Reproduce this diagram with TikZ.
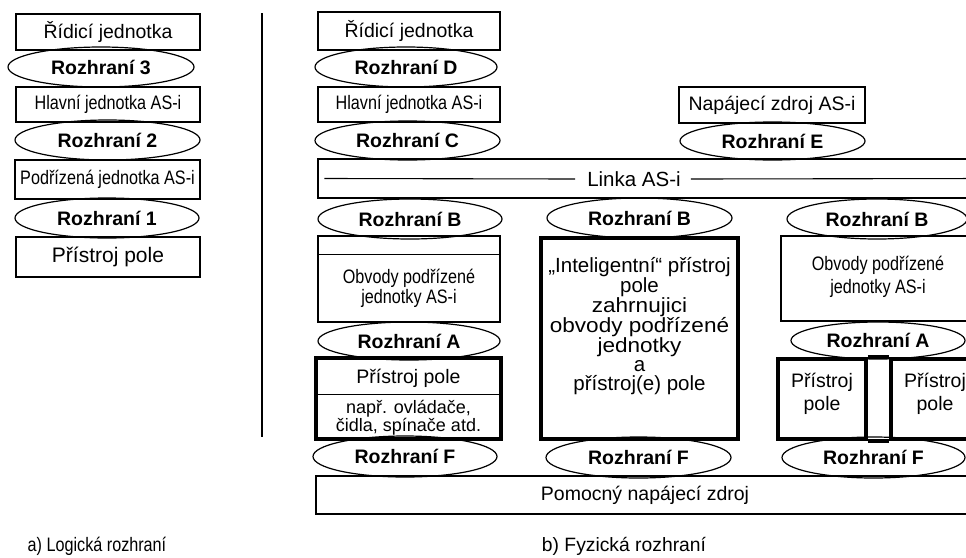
\documentclass[tikz,border=0pt]{standalone}
\usepackage{fontspec}
\setmainfont{Liberation Sans}
\newfontfamily\narrowfont{Liberation Sans}[FakeStretch=0.83]
\newfontfamily\wideface{Liberation Sans}[FakeStretch=1.1]
\usetikzlibrary{shapes.geometric}
\begin{document}
\begin{tikzpicture}[x=1pt,y=-1pt,
  thin line/.style={line width=1.1pt},
  box/.style={draw, rectangle, line width=1.3pt, inner sep=0pt, align=center,
    font=\fontsize{19.5}{21}\selectfont},
  heavybox/.style={box, line width=3.6pt},
  iface/.style={draw, ellipse, line width=1.2pt, inner sep=0pt,
    font=\bfseries\fontsize{19.5}{21}\selectfont},
  txt/.style={inner sep=0pt, align=center, font=\fontsize{19.5}{21}\selectfont},
  capt/.style={inner sep=0pt, font=\fontsize{19.3}{21}\selectfont},
]
\useasboundingbox (0,0) rectangle (966,557);
\clip (0,0) rectangle (966,557);

% ---------------- a) logical interfaces ----------------
\node[box, minimum width=184pt, minimum height=36pt] (aCtrl) at (108,32) {Řídicí jednotka};
\node[iface, minimum width=186pt, minimum height=40pt] (aI3) at (101,67) {Rozhraní 3};
\node[box, minimum width=184pt, minimum height=35pt] (aMaster) at (108,104.5) {\narrowfont Hlavní jednotka AS-i};
\node[iface, minimum width=185pt, minimum height=40pt] (aI2) at (107.5,140) {Rozhraní 2};
\node[box, minimum width=185pt, minimum height=39pt] (aSlave) at (107.5,179.5) {\narrowfont Podřízená jednotka AS-i};
\node[iface, minimum width=184pt, minimum height=40pt] (aI1) at (107,218) {Rozhraní 1};
\node[box, minimum width=184pt, minimum height=40pt] (aField) at (108,257) {\fontsize{21}{23}\selectfont Přístroj pole};

% separator between the two parts
\coordinate (sepTop) at (262,13);
\coordinate (sepBot) at (262,437);
\draw[line width=1.2pt] (sepTop) -- (sepBot);

% ---------------- b) physical interfaces ----------------
% left column
\node[box, minimum width=182pt, minimum height=38pt] (bCtrl) at (409,31) {Řídicí jednotka};
\node[iface, minimum width=182pt, minimum height=40pt] (bID) at (406,67) {Rozhraní D};
\node[box, minimum width=182pt, minimum height=35pt] (bMaster) at (409,104.5) {\narrowfont Hlavní jednotka AS-i};
\node[iface, minimum width=185pt, minimum height=39pt] (bIC) at (407.5,140.5) {Rozhraní C};

% AS-i line
\node[box, minimum width=672pt, minimum height=39pt] (asiLine) at (654,178.5) {};
\node[txt, font=\fontsize{20.5}{22}\selectfont] (asiText) at (634,179) {Linka AS-i};
\draw[thin line] ([xshift=7pt]asiLine.west) -- ([xshift=-12pt]asiText.west);
\draw[thin line] ([xshift=10pt]asiText.east) -- (asiLine.east);

\node[iface, minimum width=184pt, minimum height=40pt] (bIB1) at (410,219) {Rozhraní B};
\node[box, minimum width=182pt, minimum height=86pt] (slave1) at (409,279) {};
\draw[thin line] ([yshift=-19pt]slave1.north west) -- ([yshift=-19pt]slave1.north east);
\node[txt, font=\narrowfont\fontsize{19.5}{20}\selectfont] (slave1Text) at (409,288) {Obvody podřízené\\jednotky AS-i};
\node[iface, minimum width=182pt, minimum height=38pt] (bIA1) at (409,341) {Rozhraní A};
\node[heavybox, minimum width=185pt, minimum height=81pt] (field1) at (408.5,398.5) {};
\draw[thin line] ([yshift=-38pt]field1.north west) -- ([yshift=-38pt]field1.north east);
\node[txt] (field1Name) at (408.5,378) {Přístroj pole};
\node[txt, font=\fontsize{18}{18}\selectfont] (field1Ex) at (408.5,418) {např. ovládače,\\čidla, spínače atd.};
\node[iface, minimum width=184pt, minimum height=41pt] (bIF1) at (405,456.5) {Rozhraní F};

% auxiliary power supply
\node[box, minimum width=658pt, minimum height=38pt] (aux) at (645,495) {Pomocný napájecí zdroj};

% middle column
\node[iface, minimum width=185pt, minimum height=40pt] (bIB2) at (639.5,218) {Rozhraní B};
\node[heavybox, minimum width=197pt, minimum height=201pt] (smart) at (639.5,338.5) {};
\node[txt, font=\fontsize{20.5}{19}\selectfont] (smartText) at (639.5,326)
  {„Inteligentní“ přístroj\\pole\\{\wideface zahrnujici}\\{\wideface obvody podřízené}\\{\wideface jednotky}\\a\\přístroj(e) pole};
\node[iface, minimum width=185pt, minimum height=41pt] (bIF2) at (638.5,457.5) {Rozhraní F};

% right column
\node[box, minimum width=186pt, minimum height=36pt] (psu) at (772,105) {Napájecí zdroj AS-i};
\node[iface, minimum width=185pt, minimum height=38pt] (bIE) at (772.5,141) {Rozhraní E};
\node[iface, minimum width=180pt, minimum height=40pt] (bIB3) at (877,219) {Rozhraní B};
\node[box, minimum width=194pt, minimum height=85pt] (slave3) at (878,278.5) {};
\node[txt, font=\narrowfont\fontsize{19.5}{23}\selectfont] (slave3Text) at (878,277) {Obvody podřízené\\jednotky AS-i};
\node[iface, minimum width=174pt, minimum height=37pt] (bIA3) at (878,340.5) {Rozhraní A};
\node[heavybox, minimum width=88pt, minimum height=80pt] (field3a) at (822,399) {};
\node[heavybox, minimum width=88pt, minimum height=80pt] (field3b) at (935,399) {};
\draw[line width=3.6pt] (field3a.north east) -- (field3b.north west);
\draw[line width=3.6pt] (field3a.south east) -- (field3b.south west);
\node[txt, font=\fontsize{19.5}{23}\selectfont] (field3aText) at (822,393.5) {Přístroj\\pole};
\node[txt, font=\fontsize{19.5}{23}\selectfont] (field3bText) at (935,393.5) {Přístroj\\pole};
\node[iface, minimum width=183pt, minimum height=41pt] (bIF3) at (873.5,457.5) {Rozhraní F};

% captions
\node[capt, font=\narrowfont\fontsize{19.5}{21}\selectfont] (capA) at (97,546) {a) Logická rozhraní};
\node[capt] (capB) at (624,546) {b) Fyzická rozhraní};
\end{tikzpicture}
\end{document}
